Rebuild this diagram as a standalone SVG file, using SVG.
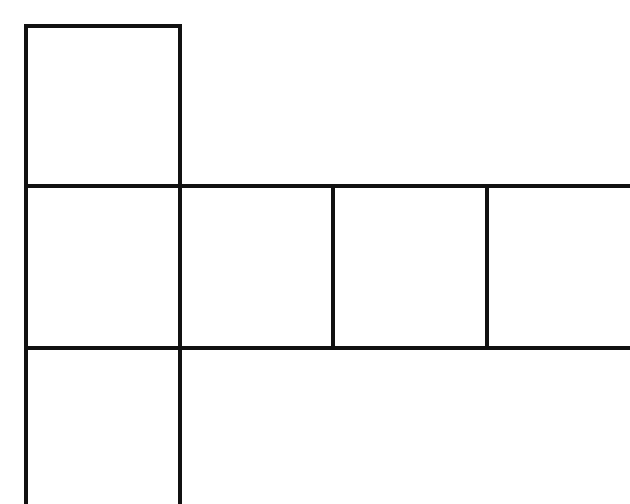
<svg xmlns="http://www.w3.org/2000/svg" width="630" height="504" viewBox="0 0 630 504">
<style>.l{stroke:#111;stroke-width:4;fill:none;stroke-linecap:square}</style>
<rect width="630" height="504" fill="#fff"/>
<g id="grid">
<path class="l" d="M26 26H180M26 186H630M26 348H630"/>
<path class="l" d="M26 26V504M180 26V504M333 186V348M487 186V348"/>
</g>
</svg>
